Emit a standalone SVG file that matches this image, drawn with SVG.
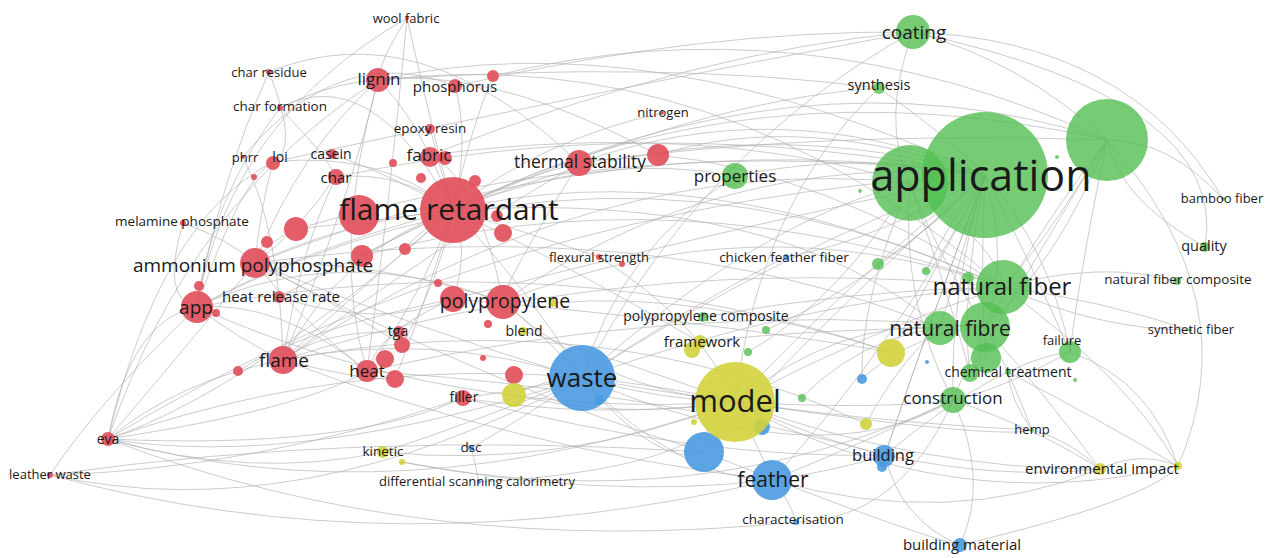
<svg xmlns="http://www.w3.org/2000/svg" width="1274" height="558" viewBox="0 0 1274 558">
<style>
.e{fill:none;stroke:#b0b0b0;stroke-width:1;stroke-opacity:.65}
.r{fill:#e2505c;fill-opacity:.92}
.g{fill:#52bf52;fill-opacity:.8}
.b{fill:#4a9ae0;fill-opacity:.9}
.y{fill:#d2d13c;fill-opacity:.9}
text{font-family:"Open Sans","Noto Sans","DejaVu Sans",sans-serif;fill:#1a1a1a;text-anchor:middle}
</style>
<rect width="1274" height="558" fill="#ffffff"/>
<g id="connectors">
<path class="e" d="M453,210 Q720,100 985,175"/>
<path class="e" d="M378,80 Q650,20 985,175"/>
<path class="e" d="M283,360 Q600,150 910,183"/>
<path class="e" d="M255,263 Q620,120 985,175"/>
<path class="e" d="M197,307 Q600,100 1003,287"/>
<path class="e" d="M108,439 Q500,200 985,175"/>
<path class="e" d="M579,163 Q780,90 985,175"/>
<path class="e" d="M453,210 Q700,150 1003,287"/>
<path class="e" d="M503,302 Q750,200 1003,287"/>
<path class="e" d="M453,210 Q800,40 1107,140"/>
<path class="e" d="M430,155 Q700,50 913,32"/>
<path class="e" d="M455,86 Q700,30 913,32"/>
<path class="e" d="M493,76 Q800,0 1107,140"/>
<path class="e" d="M658,155 Q800,110 985,175"/>
<path class="e" d="M735,176 Q860,150 985,175"/>
<path class="e" d="M582,378 Q780,250 985,175"/>
<path class="e" d="M582,378 Q800,300 1003,287"/>
<path class="e" d="M735,402 Q860,270 985,175"/>
<path class="e" d="M735,402 Q870,330 1003,287"/>
<path class="e" d="M735,402 Q840,320 940,328"/>
<path class="e" d="M772,480 Q900,340 985,175"/>
<path class="e" d="M704,452 Q820,320 985,175"/>
<path class="e" d="M885,455 Q930,320 985,175"/>
<path class="e" d="M953,400 Q950,290 985,175"/>
<path class="e" d="M1100,469 Q1050,400 985,327"/>
<path class="e" d="M1178,466 Q1130,380 1003,287"/>
<path class="e" d="M1205,247 Q1120,200 1107,140"/>
<path class="e" d="M1177,281 Q1100,260 1003,287"/>
<path class="e" d="M1190,330 Q1100,300 1003,287"/>
<path class="e" d="M1223,199 Q1170,140 1107,140"/>
<path class="e" d="M913,32 Q1020,60 1107,140"/>
<path class="e" d="M879,88 Q940,130 985,175"/>
<path class="e" d="M1070,352 Q1050,250 985,175"/>
<path class="e" d="M108,439 Q400,520 735,402"/>
<path class="e" d="M50,475 Q400,570 772,480"/>
<path class="e" d="M50,475 Q300,530 582,378"/>
<path class="e" d="M108,439 Q300,470 582,378"/>
<path class="e" d="M108,439 Q200,330 255,263"/>
<path class="e" d="M108,439 Q130,320 197,307"/>
<path class="e" d="M108,439 Q180,380 283,360"/>
<path class="e" d="M108,439 Q250,390 453,210"/>
<path class="e" d="M50,475 Q100,400 197,307"/>
<path class="e" d="M197,307 Q240,180 273,162"/>
<path class="e" d="M197,307 Q300,250 453,210"/>
<path class="e" d="M255,263 Q350,220 453,210"/>
<path class="e" d="M283,360 Q370,280 453,210"/>
<path class="e" d="M367,371 Q420,300 453,210"/>
<path class="e" d="M283,360 Q430,330 582,378"/>
<path class="e" d="M255,263 Q420,330 582,378"/>
<path class="e" d="M453,210 Q530,290 582,378"/>
<path class="e" d="M453,210 Q420,120 378,80"/>
<path class="e" d="M453,210 Q470,140 455,86"/>
<path class="e" d="M453,210 Q400,170 336,177"/>
<path class="e" d="M453,210 Q380,150 273,162"/>
<path class="e" d="M453,210 Q340,250 283,360"/>
<path class="e" d="M269,72 Q300,150 273,162"/>
<path class="e" d="M280,108 Q330,160 336,177"/>
<path class="e" d="M280,108 Q370,60 453,210"/>
<path class="e" d="M407,18 Q380,60 378,80"/>
<path class="e" d="M407,18 Q430,120 453,210"/>
<path class="e" d="M407,18 Q390,200 367,371"/>
<path class="e" d="M243,157 Q280,230 283,360"/>
<path class="e" d="M183,223 Q230,240 255,263"/>
<path class="e" d="M183,223 Q160,300 197,307"/>
<path class="e" d="M579,163 Q510,180 453,210"/>
<path class="e" d="M579,163 Q430,250 283,360"/>
<path class="e" d="M579,163 Q500,290 503,302"/>
<path class="e" d="M662,113 Q540,140 453,210"/>
<path class="e" d="M599,257 Q520,230 453,210"/>
<path class="e" d="M599,257 Q700,320 735,402"/>
<path class="e" d="M786,257 Q700,300 582,378"/>
<path class="e" d="M786,257 Q880,240 985,175"/>
<path class="e" d="M503,302 Q540,330 582,378"/>
<path class="e" d="M503,302 Q600,390 735,402"/>
<path class="e" d="M453,299 Q380,330 367,371"/>
<path class="e" d="M463,398 Q520,390 582,378"/>
<path class="e" d="M463,398 Q600,420 735,402"/>
<path class="e" d="M383,452 Q480,420 582,378"/>
<path class="e" d="M383,452 Q560,470 735,402"/>
<path class="e" d="M402,462 Q600,500 772,480"/>
<path class="e" d="M471,448 Q520,420 582,378"/>
<path class="e" d="M479,482 Q470,440 471,448"/>
<path class="e" d="M479,482 Q700,470 735,402"/>
<path class="e" d="M582,378 Q660,400 735,402"/>
<path class="e" d="M582,378 Q660,470 704,452"/>
<path class="e" d="M582,378 Q680,480 772,480"/>
<path class="e" d="M735,402 Q760,450 772,480"/>
<path class="e" d="M735,402 Q820,440 885,455"/>
<path class="e" d="M772,480 Q840,470 885,455"/>
<path class="e" d="M772,480 Q870,440 953,400"/>
<path class="e" d="M796,522 Q790,500 772,480"/>
<path class="e" d="M796,522 Q900,520 953,400"/>
<path class="e" d="M885,455 Q900,520 960,545"/>
<path class="e" d="M953,400 Q990,480 960,545"/>
<path class="e" d="M772,480 Q950,530 1100,469"/>
<path class="e" d="M735,402 Q950,520 1178,466"/>
<path class="e" d="M885,455 Q1000,480 1100,469"/>
<path class="e" d="M953,400 Q1040,430 1100,469"/>
<path class="e" d="M1032,430 Q1010,400 1008,372"/>
<path class="e" d="M1032,430 Q1000,350 985,327"/>
<path class="e" d="M700,342 Q800,330 940,328"/>
<path class="e" d="M703,317 Q850,290 1003,287"/>
<path class="e" d="M766,330 Q880,280 985,175"/>
<path class="e" d="M748,352 Q840,300 910,183"/>
<path class="e" d="M802,397 Q880,320 985,327"/>
<path class="e" d="M866,424 Q900,360 940,328"/>
<path class="e" d="M862,378 Q920,330 985,327"/>
<path class="e" d="M891,352 Q940,260 985,175"/>
<path class="e" d="M700,342 Q540,250 453,210"/>
<path class="e" d="M553,303 Q700,290 891,352"/>
<path class="e" d="M523,331 Q620,360 735,402"/>
<path class="e" d="M514,395 Q620,420 735,402"/>
<path class="e" d="M514,395 Q540,380 582,378"/>
<path class="e" d="M197,307 Q240,340 283,360"/>
<path class="e" d="M197,307 Q280,300 367,371"/>
<path class="e" d="M255,263 Q300,320 367,371"/>
<path class="e" d="M279,297 Q370,250 453,210"/>
<path class="e" d="M279,297 Q380,330 453,299"/>
<path class="e" d="M283,360 Q320,330 399,332"/>
<path class="e" d="M283,360 Q360,380 395,379"/>
<path class="e" d="M255,263 Q330,300 402,345"/>
<path class="e" d="M197,307 Q340,240 503,302"/>
<path class="e" d="M255,263 Q380,260 503,302"/>
<path class="e" d="M238,371 Q300,330 453,299"/>
<path class="e" d="M108,439 Q300,410 367,371"/>
<path class="e" d="M108,439 Q350,450 463,398"/>
<path class="e" d="M50,475 Q250,470 463,398"/>
<path class="e" d="M108,439 Q250,480 383,452"/>
<path class="e" d="M296,229 Q380,220 453,210"/>
<path class="e" d="M296,229 Q270,240 255,263"/>
<path class="e" d="M362,256 Q410,230 453,210"/>
<path class="e" d="M405,249 Q420,230 453,210"/>
<path class="e" d="M493,76 Q470,130 453,210"/>
<path class="e" d="M430,128 Q440,170 453,210"/>
<path class="e" d="M335,177 Q300,230 255,263"/>
<path class="e" d="M273,162 Q260,210 255,263"/>
<path class="e" d="M331,154 Q380,170 453,210"/>
<path class="e" d="M378,80 Q300,150 255,263"/>
<path class="e" d="M378,80 Q350,200 283,360"/>
<path class="e" d="M269,72 Q220,180 197,307"/>
<path class="e" d="M280,108 Q210,200 197,307"/>
<path class="e" d="M280,108 Q430,30 658,155"/>
<path class="e" d="M269,72 Q420,10 579,163"/>
<path class="e" d="M1107,140 Q1250,300 1178,466"/>
<path class="e" d="M913,32 Q1230,100 1205,247"/>
<path class="e" d="M913,32 Q1130,40 1223,199"/>
<path class="e" d="M910,183 Q1000,250 1003,287"/>
<path class="e" d="M985,175 Q960,260 940,328"/>
<path class="e" d="M985,175 Q1010,260 985,327"/>
<path class="e" d="M985,175 Q980,280 986,358"/>
<path class="e" d="M985,175 Q960,300 970,373"/>
<path class="e" d="M1107,140 Q1040,250 1003,287"/>
<path class="e" d="M1107,140 Q1000,280 953,400"/>
<path class="e" d="M1107,140 Q1080,270 1070,352"/>
<path class="e" d="M910,183 Q900,300 953,400"/>
<path class="e" d="M910,183 Q860,300 862,378"/>
<path class="e" d="M878,264 Q930,230 985,175"/>
<path class="e" d="M926,271 Q950,220 985,175"/>
<path class="e" d="M453,210 Q750,60 1107,140"/>
<path class="e" d="M378,80 Q720,40 1003,287"/>
<path class="e" d="M453,210 Q780,190 940,328"/>
<path class="e" d="M582,378 Q760,220 910,183"/>
<path class="e" d="M503,302 Q720,150 985,175"/>
<path class="e" d="M453,299 Q700,320 891,352"/>
<path class="e" d="M283,360 Q600,300 866,424"/>
<path class="e" d="M367,371 Q650,390 885,455"/>
<path class="e" d="M582,378 Q820,480 953,400"/>
<path class="e" d="M735,402 Q1000,440 1032,430"/>
<path class="e" d="M960,545 Q1150,500 1178,466"/>
<path class="e" d="M1100,469 Q1140,450 1178,466"/>
<path class="e" d="M1070,352 Q1150,380 1178,466"/>
<path class="e" d="M1008,372 Q1100,420 1178,466"/>
<path class="e" d="M1032,430 Q1070,440 1100,469"/>
<path class="e" d="M953,400 Q1000,390 1070,352"/>
<path class="e" d="M885,455 Q1000,360 1070,352"/>
<path class="e" d="M1003,287 Q1100,330 1190,330"/>
<path class="e" d="M735,176 Q620,250 582,378"/>
<path class="e" d="M735,176 Q600,150 453,210"/>
<path class="e" d="M879,88 Q700,100 453,210"/>
<path class="e" d="M913,32 Q880,120 910,183"/>
<path class="e" d="M913,32 Q700,150 582,378"/>
<path class="e" d="M879,88 Q760,200 735,402"/>
<path class="e" d="M336,177 Q650,110 985,175"/>
<path class="e" d="M430,155 Q700,120 910,183"/>
<path class="e" d="M296,229 Q640,130 985,175"/>
<path class="e" d="M362,256 Q680,170 1003,287"/>
<path class="e" d="M255,263 Q650,210 940,328"/>
<path class="e" d="M197,307 Q560,240 891,352"/>
<path class="e" d="M283,360 Q620,250 1003,287"/>
<path class="e" d="M367,371 Q680,300 985,327"/>
<path class="e" d="M453,299 Q720,230 985,175"/>
<path class="e" d="M579,163 Q820,130 1107,140"/>
<path class="e" d="M658,155 Q820,170 1003,287"/>
<path class="e" d="M273,162 Q600,90 913,32"/>
<path class="e" d="M378,80 Q660,60 879,88"/>
<path class="e" d="M108,439 Q420,330 735,402"/>
<path class="e" d="M50,475 Q360,430 704,452"/>
<path class="e" d="M197,307 Q450,420 735,402"/>
<path class="e" d="M255,263 Q500,390 704,452"/>
<path class="e" d="M283,360 Q520,450 772,480"/>
<path class="e" d="M463,398 Q700,460 885,455"/>
<path class="e" d="M402,462 Q700,520 953,400"/>
<path class="e" d="M108,439 Q420,560 796,522"/>
<path class="e" d="M582,378 Q820,420 1032,430"/>
<path class="e" d="M735,402 Q920,470 1100,469"/>
<path class="e" d="M704,452 Q900,530 960,545"/>
<path class="e" d="M735,402 Q880,410 953,400"/>
<path class="e" d="M910,183 Q940,260 985,327"/>
<path class="e" d="M910,183 Q950,300 970,373"/>
<path class="e" d="M985,175 Q1030,260 1070,352"/>
<path class="e" d="M1107,140 Q1060,260 985,327"/>
<path class="e" d="M1107,140 Q1010,300 970,373"/>
<path class="e" d="M985,175 Q930,320 885,455"/>
<path class="e" d="M108,439 Q160,220 273,162"/>
<path class="e" d="M108,439 Q190,200 378,80"/>
<path class="e" d="M197,307 Q230,120 407,18"/>
<path class="e" d="M243,157 Q340,40 455,86"/>
<path class="e" d="M283,360 Q300,250 336,177"/>
<path class="e" d="M367,371 Q330,250 378,80"/>
<path class="e" d="M503,302 Q480,180 430,155"/>
<path class="e" d="M453,299 Q470,250 453,210"/>
<path class="e" d="M395,379 Q430,290 453,210"/>
<path class="e" d="M402,345 Q440,280 453,210"/>
</g>
<g id="n-small-red">
<circle class="r" cx="493" cy="76" r="6"/>
<circle class="r" cx="393" cy="163" r="4"/>
<circle class="r" cx="445" cy="158" r="7"/>
<circle class="r" cx="475" cy="181" r="6"/>
<circle class="r" cx="254" cy="177" r="3"/>
<circle class="r" cx="421" cy="178" r="5"/>
<circle class="r" cx="296" cy="229" r="12"/>
<circle class="r" cx="267" cy="242" r="6"/>
<circle class="r" cx="362" cy="256" r="11"/>
<circle class="r" cx="405" cy="249" r="6"/>
<circle class="r" cx="497" cy="216" r="6"/>
<circle class="r" cx="503" cy="233" r="9"/>
<circle class="r" cx="658" cy="155" r="11"/>
<circle class="r" cx="622" cy="264" r="3"/>
<circle class="r" cx="438" cy="283" r="4"/>
<circle class="r" cx="199" cy="286" r="5"/>
<circle class="r" cx="216" cy="313" r="4"/>
<circle class="r" cx="402" cy="345" r="8"/>
<circle class="r" cx="385" cy="359" r="9"/>
<circle class="r" cx="395" cy="379" r="9"/>
<circle class="r" cx="238" cy="371" r="5"/>
<circle class="r" cx="453" cy="299" r="13"/>
<circle class="r" cx="488" cy="324" r="4"/>
<circle class="r" cx="483" cy="358" r="3"/>
<circle class="r" cx="514" cy="375" r="9"/>
</g>
<g id="n-small-yellow">
<circle class="y" cx="553" cy="303" r="4"/>
<circle class="y" cx="514" cy="395" r="12"/>
<circle class="y" cx="402" cy="462" r="3"/>
<circle class="y" cx="692" cy="350" r="8"/>
<circle class="y" cx="694" cy="422" r="3"/>
<circle class="y" cx="891" cy="353" r="14"/>
<circle class="y" cx="866" cy="424" r="6"/>
<circle class="y" cx="1178" cy="466" r="4"/>
</g>
<g id="n-small-blue">
<circle class="b" cx="599" cy="400" r="5"/>
<circle class="b" cx="704" cy="452" r="20"/>
<circle class="b" cx="762" cy="427" r="8"/>
<circle class="b" cx="862" cy="379" r="5"/>
<circle class="b" cx="927" cy="362" r="2"/>
<circle class="b" cx="882" cy="467" r="5"/>
</g>
<g id="n-small-green">
<circle class="g" cx="766" cy="330" r="4"/>
<circle class="g" cx="748" cy="352" r="4"/>
<circle class="g" cx="802" cy="398" r="4"/>
<circle class="g" cx="878" cy="264" r="6"/>
<circle class="g" cx="926" cy="271" r="4"/>
<circle class="g" cx="860" cy="191" r="2"/>
<circle class="g" cx="1057" cy="157" r="2"/>
<circle class="g" cx="1075" cy="380" r="2"/>
<circle class="g" cx="968" cy="278" r="6"/>
<circle class="g" cx="986" cy="358" r="15"/>
<circle class="g" cx="985" cy="327" r="25"/>
<circle class="g" cx="1107" cy="140" r="41"/>
<circle class="g" cx="910" cy="183" r="38"/>
</g>
<g id="n-wool-fabric"><circle class="r" cx="407" cy="18" r="2"/><text x="406" y="23" font-size="13">wool fabric</text></g>
<g id="n-char-residue"><circle class="r" cx="269" cy="72" r="3"/><text x="269" y="77" font-size="13">char residue</text></g>
<g id="n-lignin"><circle class="r" cx="378" cy="80" r="12"/><text x="379" y="85" font-size="17">lignin</text></g>
<g id="n-phosphorus"><circle class="r" cx="455" cy="86" r="7"/><text x="455" y="92" font-size="15">phosphorus</text></g>
<g id="n-char-formation"><circle class="r" cx="280" cy="108" r="3"/><text x="280" y="111" font-size="13.5">char formation</text></g>
<g id="n-epoxy-resin"><circle class="r" cx="430" cy="129" r="5"/><text x="430" y="133" font-size="13.5">epoxy resin</text></g>
<g id="n-phrr"><circle class="r" cx="243" cy="157" r="2"/><text x="245" y="162" font-size="13">phrr</text></g>
<g id="n-loi"><circle class="r" cx="273" cy="163" r="7"/><text x="280" y="162" font-size="14">loi</text></g>
<g id="n-casein"><circle class="r" cx="332" cy="154" r="5"/><text x="331" y="159" font-size="14">casein</text></g>
<g id="n-fabric"><circle class="r" cx="430" cy="157" r="10"/><text x="429" y="161" font-size="17">fabric</text></g>
<g id="n-char"><circle class="r" cx="336" cy="177" r="8"/><text x="336" y="183" font-size="15">char</text></g>
<g id="n-thermal-stability"><circle class="r" cx="579" cy="163" r="13"/><text x="580" y="168" font-size="17.5">thermal stability</text></g>
<g id="n-nitrogen"><circle class="r" cx="662" cy="113" r="2"/><text x="663" y="117" font-size="13">nitrogen</text></g>
<g id="n-flame-retardant"><circle class="r" cx="359" cy="215" r="20"/><circle class="r" cx="453" cy="210" r="33"/><text x="449" y="220" font-size="30">flame retardant</text></g>
<g id="n-melamine-phosphate"><circle class="r" cx="183" cy="223" r="3"/><text x="182" y="226" font-size="13.5">melamine phosphate</text></g>
<g id="n-ammonium-polyphosphate"><circle class="r" cx="255" cy="263" r="15"/><text x="253" y="272" font-size="19">ammonium polyphosphate</text></g>
<g id="n-flexural-strength"><circle class="r" cx="599" cy="257" r="3"/><text x="599" y="262" font-size="13">flexural strength</text></g>
<g id="n-app"><circle class="r" cx="197" cy="307" r="16"/><text x="196" y="314" font-size="19">app</text></g>
<g id="n-heat-release-rate"><circle class="r" cx="279" cy="297" r="6"/><text x="281" y="302" font-size="15">heat release rate</text></g>
<g id="n-polypropylene"><circle class="r" cx="503" cy="302" r="17"/><text x="505" y="308" font-size="19.5">polypropylene</text></g>
<g id="n-blend"><circle class="y" cx="523" cy="331" r="4"/><text x="524" y="336" font-size="14">blend</text></g>
<g id="n-tga"><circle class="r" cx="399" cy="332" r="6"/><text x="398" y="336" font-size="14">tga</text></g>
<g id="n-flame"><circle class="r" cx="283" cy="360" r="14"/><text x="284" y="367" font-size="19">flame</text></g>
<g id="n-heat"><circle class="r" cx="367" cy="371" r="11"/><text x="367" y="377" font-size="17">heat</text></g>
<g id="n-filler"><circle class="r" cx="463" cy="398" r="8"/><text x="464" y="402" font-size="14">filler</text></g>
<g id="n-eva"><circle class="r" cx="108" cy="439" r="7"/><text x="108" y="444" font-size="14">eva</text></g>
<g id="n-leather-waste"><circle class="r" cx="50" cy="475" r="3"/><text x="50" y="479" font-size="13">leather waste</text></g>
<g id="n-kinetic"><circle class="y" cx="383" cy="452" r="6"/><text x="383" y="456" font-size="13.5">kinetic</text></g>
<g id="n-dsc"><circle class="b" cx="471" cy="448" r="3"/><text x="471" y="452" font-size="13.5">dsc</text></g>
<g id="n-differential-scanning-calorimetry"><circle class="b" cx="479" cy="482" r="2"/><text x="477" y="486" font-size="13">differential scanning calorimetry</text></g>
<g id="n-waste"><circle class="b" cx="582" cy="378" r="33"/><text x="582" y="387" font-size="26">waste</text></g>
<g id="n-polypropylene-composite"><circle class="g" cx="703" cy="317" r="5"/><text x="706" y="321" font-size="14">polypropylene composite</text></g>
<g id="n-framework"><circle class="y" cx="700" cy="342" r="7"/><text x="702" y="347" font-size="15">framework</text></g>
<g id="n-model"><circle class="y" cx="735" cy="402" r="40"/><text x="735" y="412" font-size="31">model</text></g>
<g id="n-feather"><circle class="b" cx="772" cy="480" r="20"/><text x="773" y="487" font-size="21">feather</text></g>
<g id="n-characterisation"><circle class="b" cx="796" cy="522" r="3"/><text x="793" y="524" font-size="13.5">characterisation</text></g>
<g id="n-properties"><circle class="g" cx="735" cy="176" r="13"/><text x="735" y="182" font-size="17">properties</text></g>
<g id="n-chicken-feather-fiber"><circle class="b" cx="786" cy="257" r="3"/><text x="784" y="262" font-size="13.5">chicken feather fiber</text></g>
<g id="n-coating"><circle class="g" cx="913" cy="32" r="17"/><text x="914" y="39" font-size="19">coating</text></g>
<g id="n-synthesis"><circle class="g" cx="879" cy="88" r="6"/><text x="879" y="90" font-size="14.5">synthesis</text></g>
<g id="n-application"><circle class="g" cx="985" cy="175" r="63"/><text x="981" y="191" font-size="43">application</text></g>
<g id="n-bamboo-fiber"><circle class="g" cx="1223" cy="199" r="2"/><text x="1222" y="203" font-size="13">bamboo fiber</text></g>
<g id="n-quality"><circle class="g" cx="1205" cy="247" r="5"/><text x="1204" y="251" font-size="14.5">quality</text></g>
<g id="n-natural-fiber-composite"><circle class="g" cx="1177" cy="281" r="4"/><text x="1178" y="284" font-size="13.5">natural fiber composite</text></g>
<g id="n-synthetic-fiber"><circle class="g" cx="1190" cy="330" r="2"/><text x="1191" y="334" font-size="13">synthetic fiber</text></g>
<g id="n-natural-fiber"><circle class="g" cx="1003" cy="287" r="27"/><text x="1002" y="295" font-size="24">natural fiber</text></g>
<g id="n-natural-fibre"><circle class="g" cx="940" cy="328" r="17"/><text x="950" y="336" font-size="21">natural fibre</text></g>
<g id="n-failure"><circle class="g" cx="1070" cy="352" r="11"/><text x="1062" y="345" font-size="13">failure</text></g>
<g id="n-chemical-treatment"><circle class="g" cx="970" cy="373" r="9"/><circle class="g" cx="1008" cy="372" r="3"/><text x="1008" y="377" font-size="14">chemical treatment</text></g>
<g id="n-construction"><circle class="g" cx="953" cy="400" r="13"/><text x="953" y="404" font-size="17">construction</text></g>
<g id="n-hemp"><circle class="g" cx="1032" cy="430" r="2"/><text x="1032" y="434" font-size="13">hemp</text></g>
<g id="n-building"><circle class="b" cx="884" cy="456" r="11"/><text x="883" y="461" font-size="16.5">building</text></g>
<g id="n-environmental-impact"><circle class="y" cx="1100" cy="469" r="6"/><text x="1102" y="474" font-size="15">environmental impact</text></g>
<g id="n-building-material"><circle class="b" cx="960" cy="545" r="7"/><text x="962" y="550" font-size="15">building material</text></g>
</svg>
